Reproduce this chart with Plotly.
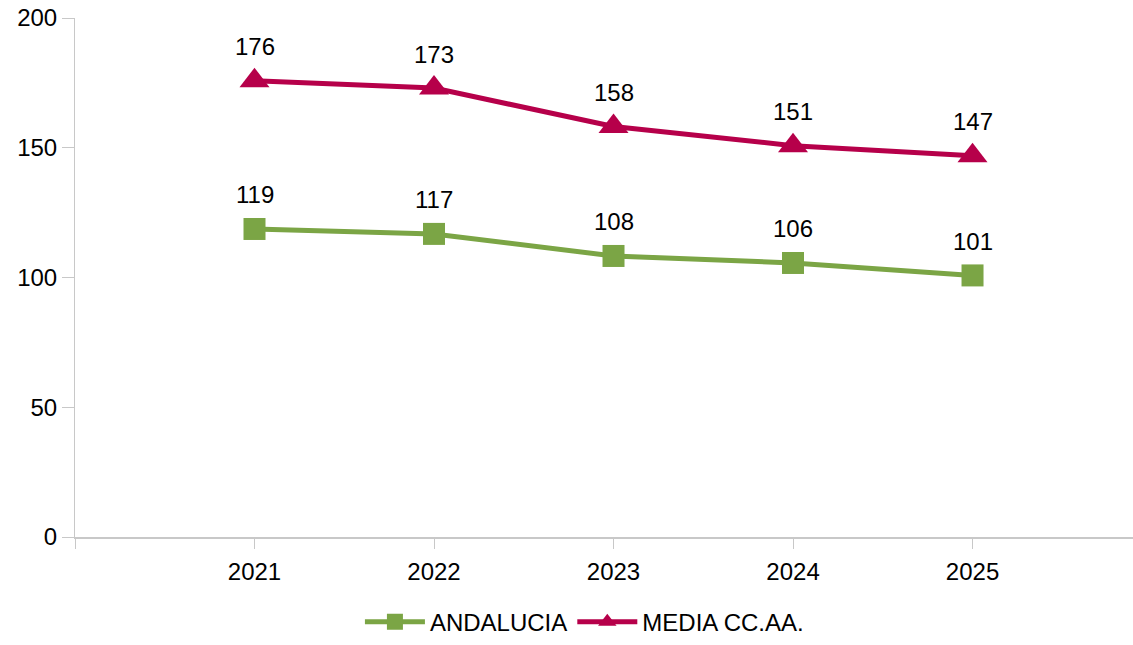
import plotly.graph_objects as go

years = [2021, 2022, 2023, 2024, 2025]
andalucia = [118.7, 116.8, 108.3, 105.6, 100.8]
andalucia_labels = ["119", "117", "108", "106", "101"]
media = [175.8, 173.0, 158.2, 150.8, 146.9]
media_labels = ["176", "173", "158", "151", "147"]
tick_vals = [2020, 2021, 2022, 2023, 2024, 2025]
tick_text = ["", "2021", "2022", "2023", "2024", "2025"]

green = "#7ba545"
red = "#b6004a"
font = "Liberation Sans, Arial, sans-serif"

fig = go.Figure()
fig.add_trace(go.Scatter(
    x=years, y=andalucia, name="ANDALUCIA", mode="lines+markers",
    line=dict(color=green, width=5),
    marker=dict(symbol="square", size=22, color=green),
    cliponaxis=False,
))
fig.add_trace(go.Scatter(
    x=years, y=media, name="MEDIA CC.AA.", mode="lines+markers",
    line=dict(color=red, width=5),
    marker=dict(symbol="triangle-up", size=26, color=red),
    cliponaxis=False,
))

annotations = []
for xs, ys, labels in [(years, andalucia, andalucia_labels), (years, media, media_labels)]:
    for xv, yv, lab in zip(xs, ys, labels):
        annotations.append(dict(x=xv, y=yv, text=lab, showarrow=False, xref="x", yref="y",
                                yanchor="middle", yshift=34,
                                font=dict(size=24, color="#000000", family=font)))

fig.update_layout(
    width=1133, height=645,
    margin=dict(l=75, r=0, t=18, b=108, autoexpand=False),
    paper_bgcolor="white", plot_bgcolor="white",
    font=dict(family=font, size=24, color="#000000"),
    showlegend=True,
    annotations=annotations,
    legend=dict(orientation="h", x=0.4815, xanchor="center", y=-0.2075, yanchor="bottom",
                font=dict(size=24), itemwidth=60),
    xaxis=dict(range=[2020, 2025.894], tickvals=tick_vals, ticktext=tick_text,
               showgrid=False, zeroline=False, showline=True, linecolor="#c8c8c8",
               linewidth=2, ticks="outside", ticklen=10, tickcolor="#c8c8c8",
               tickwidth=1, tickfont=dict(size=24), automargin=False, ticklabelstandoff=2),
    yaxis=dict(range=[0, 200], tickvals=[0, 50, 100, 150, 200],
               showgrid=False, zeroline=False, showline=True, linecolor="#c8c8c8",
               linewidth=1, ticks="outside", ticklen=12, tickcolor="#c8c8c8",
               tickwidth=1, tickfont=dict(size=24), automargin=False),
)

fig.write_html(
    "out.html",
    config={"displayModeBar": False},
    post_script="document.body.style.margin='0';document.body.style.overflow='hidden';",
)
